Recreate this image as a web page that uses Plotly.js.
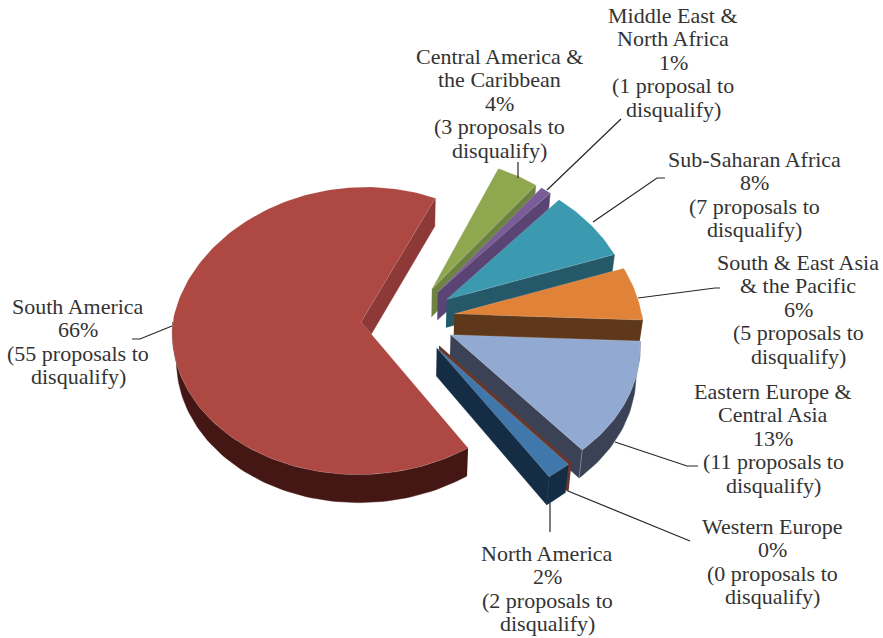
<!DOCTYPE html>
<html>
<head>
<meta charset="utf-8">
<script src="https://cdn.plot.ly/plotly-3.0.1.min.js"></script>
<style>html,body{margin:0;padding:0;background:#fff}#chart{width:883px;height:638px}</style>
</head>
<body>
<div id="chart"></div>
<script>
// Regions in clockwise drawing order, beginning with the largest slice.
const regions = ["South America", "Central America & the Caribbean", "Middle East & North Africa",
  "Sub-Saharan Africa", "South & East Asia & the Pacific", "Eastern Europe & Central Asia",
  "Western Europe", "North America"];
const percents = [66, 4, 1, 8, 6, 13, 0, 2];
const proposals = [55, 3, 1, 7, 5, 11, 0, 2];

const topColors  = ["#ad4843", "#8fa850", "#7a5c98", "#3c9ab0", "#e08238", "#92a9d2", "#66392f", "#4178ab"];
const cutColors  = ["#8c3937", "#6e8342", "#5a4474", "#25596a", "#5f381b", "#3c4256", "#66392f", "#152d44"];
const rimColors  = ["#451714", "#6e8342", "#5a4474", "#25596a", "#5f381b", "#3c4256", "#66392f", "#152d44"];

// Text rows of each callout, with the centre of the block and the y of its first row.
const labelRows = [
  ["South America", "66%", "(55 proposals to", "disqualify)"],
  ["Central America &", "the Caribbean", "4%", "(3 proposals to", "disqualify)"],
  ["Middle East &", "North Africa", "1%", "(1 proposal to", "disqualify)"],
  ["Sub-Saharan Africa", "8%", "(7 proposals to", "disqualify)"],
  ["South & East Asia", "& the Pacific", "6%", "(5 proposals to", "disqualify)"],
  ["Eastern Europe &", "Central Asia", "13%", "(11 proposals to", "disqualify)"],
  ["Western Europe", "0%", "(0 proposals to", "disqualify)"],
  ["North America", "2%", "(2 proposals to", "disqualify)"]
];
const labelX = [78, 499, 673, 754, 798, 773, 772, 547];
const labelY = [306, 56, 15, 159, 262, 391, 526, 553];
const rowStep = 23.6;

const leaderX = [[132, 140, 172], [518, 518], [621, 547], [665, 657, 593], [720, 715, 638], [698, 687, 615], [690, 568], [550, 550]];
const leaderY = [[339, 339, 326], [162, 178], [119, 190], [178, 178, 222], [288, 288, 298], [466, 466, 442], [541, 491], [532, 503]];

// Projection of the tilted pie onto the page: the far half narrows faster than the near half widens.
const cx = 408, cy = 319, R = 188, tilt = 0.76, eyeY = 3040, eyeFar = 1750, eyeNear = 3040;
const explode = 47, wall = 28, converge = 0.018, startAngle = 146.5;

const rad = d => d * Math.PI / 180;
const project = (X, Z) => {
  const sx = 1 / (1 + Z / (Z > 0 ? eyeFar : eyeNear));
  const sy = 1 / (1 + Z / eyeY);
  return [cx + X * sx, cy - Z * tilt * sy];
};
const drop = p => [p[0] - (p[0] - cx) * converge, p[1] + wall];

function polygon(points, fill, stroke, width) {
  return {
    type: "scatter", mode: "lines", hoverinfo: "skip", showlegend: false,
    x: points.map(p => p[0]), y: points.map(p => p[1]),
    fill: "toself", fillcolor: fill,
    line: { color: stroke, width: width }
  };
}

const traces = [];
const total = percents.reduce((a, b) => a + b, 0);
let angle = startAngle;

percents.forEach((value, i) => {
  const a0 = angle % 360, a1 = a0 + value / total * 360;
  angle = a1;
  const mid = (a0 + a1) / 2;
  const ox = explode * Math.sin(rad(mid)), oz = explode * Math.cos(rad(mid));
  const apex = project(ox, oz);
  const onRim = a => project(ox + R * Math.sin(rad(a)), oz + R * Math.cos(rad(a)));

  const arc = (from, to) => {
    const n = Math.max(2, Math.ceil(Math.abs(to - from) / 1.5));
    return Array.from({ length: n + 1 }, (_, k) => onRim(from + (to - from) * k / n));
  };

  // Cut faces turned towards the viewer.
  if (Math.cos(rad(a0 - 90)) < 0) {
    const e = onRim(a0);
    traces.push(polygon([apex, e, drop(e), drop(apex)], cutColors[i], cutColors[i], 0.5));
  }
  if (Math.cos(rad(a1 + 90)) < 0) {
    const e = onRim(a1);
    traces.push(polygon([apex, e, drop(e), drop(apex)], cutColors[i], cutColors[i], value === 0 ? 1.5 : 0.5));
  }

  // Curved outer wall, only along the front half of the pie.
  const lo = Math.max(a0, 90), hi = Math.min(a1, 270);
  if (hi > lo) {
    const front = arc(lo, hi);
    traces.push(polygon(front.concat(front.slice().reverse().map(drop)), rimColors[i], rimColors[i], 0.5));
    if (a1 > 90 && a1 < 270 && value > 6) {
      const c = onRim(a1), d = drop(c);
      traces.push({
        type: "scatter", mode: "lines", hoverinfo: "skip", showlegend: false,
        x: [c[0], d[0]], y: [c[1], d[1]],
        line: { color: "rgba(255,255,255,0.28)", width: 1 }
      });
    }
  }

  // Top face with a faint light edge.
  if (value > 0) {
    traces.push(polygon([apex].concat(arc(a0, a1)).concat([apex]), topColors[i], "rgba(255,255,255,0.22)", 0.7));
  }
});

// Leader lines from the callouts to the slices.
leaderX.forEach((xs, i) => {
  traces.push({
    type: "scatter", mode: "lines", hoverinfo: "skip", showlegend: false,
    x: xs, y: leaderY[i], line: { color: "#262626", width: 1.2 }
  });
});

const annotations = [];
labelRows.forEach((rows, i) => {
  rows.forEach((row, r) => {
    annotations.push({
      xref: "x", yref: "y", x: labelX[i], y: labelY[i] + r * rowStep,
      text: row, showarrow: false, xanchor: "center", yanchor: "middle",
      font: { family: "'Liberation Serif', serif", size: 22, color: "#333333" }
    });
  });
});

Plotly.newPlot("chart", traces, {
  width: 883, height: 638, autosize: false,
  margin: { l: 0, r: 0, t: 0, b: 0 },
  paper_bgcolor: "#ffffff", plot_bgcolor: "#ffffff", showlegend: false,
  xaxis: { range: [0, 883], visible: false, fixedrange: true },
  yaxis: { range: [638, 0], visible: false, fixedrange: true },
  annotations: annotations
}, { displayModeBar: false, staticPlot: true });
</script>
</body>
</html>
